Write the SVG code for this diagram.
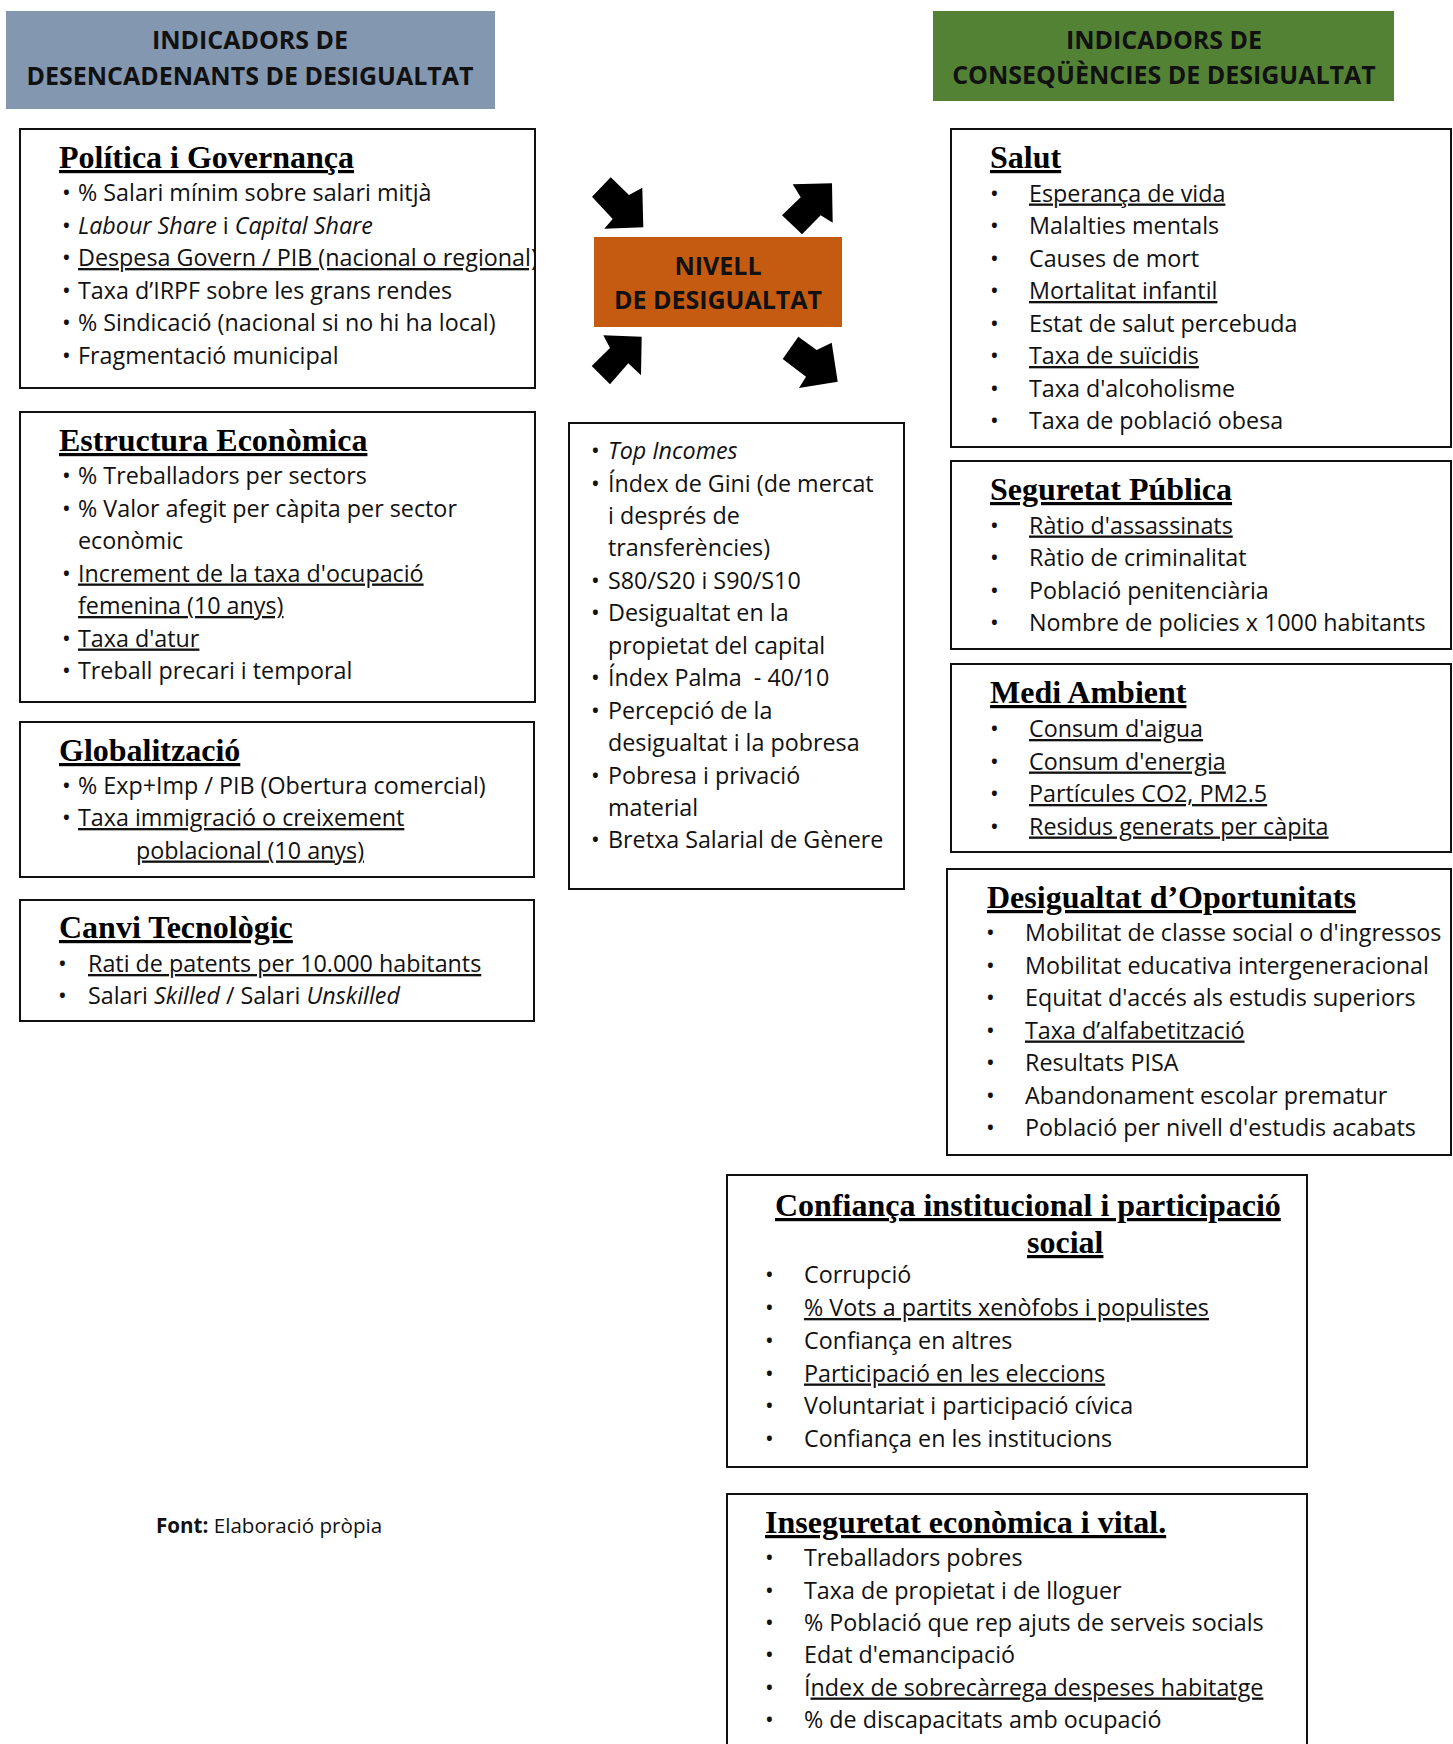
<svg xmlns="http://www.w3.org/2000/svg" width="1453" height="1744" viewBox="0 0 1453 1744">
<style>
.box{fill:#fff;stroke:#111;stroke-width:2}
.ttl{font-family:"Liberation Serif","Times New Roman",serif;font-weight:700;font-size:32px;text-decoration:underline;text-decoration-skip-ink:none;text-decoration-thickness:2.5px;fill:#000}
.tx{font-family:"Open Sans","Liberation Sans",sans-serif;font-size:23.3px;fill:#111}
.u{text-decoration:underline;text-decoration-skip-ink:none}
.i{font-style:italic}
.hd{font-family:"Open Sans","Liberation Sans",sans-serif;font-weight:700;font-size:25px;text-anchor:middle;fill:#111}
.arr{fill:#000}
</style>
<defs>
<clipPath id="clipPol"><rect x="20" y="129" width="515" height="259"/></clipPath>
</defs>
<rect width="1453" height="1744" fill="#fff"/>

<g id="hdr-left">
<rect x="6" y="11" width="489" height="98" fill="#8497B0"/>
<text class="hd" x="250" y="49">INDICADORS DE</text>
<text class="hd" x="250" y="85">DESENCADENANTS DE DESIGUALTAT</text>
</g>

<g id="hdr-right">
<rect x="933" y="11" width="461" height="90" fill="#548235"/>
<text class="hd" x="1164" y="49">INDICADORS DE</text>
<text class="hd" x="1164" y="84">CONSEQÜÈNCIES DE DESIGUALTAT</text>
</g>

<g id="politica">
<rect class="box" x="20" y="129" width="515" height="259"/>
<text class="ttl" x="59" y="168">Política i Governança</text>
<g class="tx">
<text x="62" y="201">•</text><text x="78" y="201">% Salari mínim sobre salari mitjà</text>
<text x="62" y="233.5">•</text><text x="78" y="233.5"><tspan class="i">Labour Share</tspan> i <tspan class="i">Capital Share</tspan></text>
<text x="62" y="266">•</text><text x="78" y="266" class="u" clip-path="url(#clipPol)">Despesa Govern / PIB (nacional o regional)</text>
<text x="62" y="298.5">•</text><text x="78" y="298.5">Taxa d’IRPF sobre les grans rendes</text>
<text x="62" y="331">•</text><text x="78" y="331">% Sindicació (nacional si no hi ha local)</text>
<text x="62" y="363.5">•</text><text x="78" y="363.5">Fragmentació municipal</text>
</g>
</g>

<g id="estructura">
<rect class="box" x="20" y="412" width="515" height="290"/>
<text class="ttl" x="59" y="451">Estructura Econòmica</text>
<g class="tx">
<text x="62" y="484">•</text><text x="78" y="484">% Treballadors per sectors</text>
<text x="62" y="516.5">•</text><text x="78" y="516.5">% Valor afegit per càpita per sector</text>
<text x="78" y="549">econòmic</text>
<text x="62" y="581.5">•</text><text x="78" y="581.5" class="u">Increment de la taxa d'ocupació</text>
<text x="78" y="614" class="u">femenina (10 anys)</text>
<text x="62" y="646.5">•</text><text x="78" y="646.5" class="u">Taxa d'atur</text>
<text x="62" y="679">•</text><text x="78" y="679">Treball precari i temporal</text>
</g>
</g>

<g id="globalitzacio">
<rect class="box" x="20" y="722" width="514" height="155"/>
<text class="ttl" x="59" y="761">Globalització</text>
<g class="tx">
<text x="62" y="793.5">•</text><text x="78" y="793.5">% Exp+Imp / PIB (Obertura comercial)</text>
<text x="62" y="826">•</text><text x="78" y="826" class="u">Taxa immigració o creixement</text>
<text x="136" y="858.5" class="u">poblacional (10 anys)</text>
</g>
</g>

<g id="canvi">
<rect class="box" x="20" y="900" width="514" height="121"/>
<text class="ttl" x="59" y="938">Canvi Tecnològic</text>
<g class="tx">
<text x="58" y="972">•</text><text x="88" y="972" class="u">Rati de patents per 10.000 habitants</text>
<text x="58" y="1004">•</text><text x="88" y="1004">Salari <tspan class="i">Skilled</tspan> / Salari <tspan class="i">Unskilled</tspan></text>
</g>
</g>

<g id="nivell">
<rect x="594" y="237" width="248" height="90" fill="#C55A11"/>
<text class="hd" x="718" y="275">NIVELL</text>
<text class="hd" x="718" y="309">DE DESIGUALTAT</text>
</g>

<g id="connectors">
<polygon class="arr" points="592,196.7 610.7,177.3 629,195 642.3,187.7 643.3,227.3 604.3,228.7 612.7,219"/>
<polygon class="arr" points="782,215.3 800.7,197.3 792.7,184.3 832,183.3 832.7,222.7 820.7,215.3 802,234.3"/>
<polygon class="arr" points="591.7,366 610,348 603.3,335.3 641.7,336.7 641,375.3 628.3,363.3 610,384.3"/>
<polygon class="arr" points="798.3,336.7 816.7,350 831.7,342.7 837.7,381.7 799,388 806,376.7 782.7,359"/>
</g>

<g id="mesures">
<rect class="box" x="569" y="423" width="335" height="466"/>
<g class="tx">
<text x="591" y="459">•</text><text x="608" y="459" class="i">Top Incomes</text>
<text x="591" y="491.5">•</text><text x="608" y="491.5">Índex de Gini (de mercat</text>
<text x="608" y="524">i després de</text>
<text x="608" y="556.3">transferències)</text>
<text x="591" y="588.8">•</text><text x="608" y="588.8">S80/S20 i S90/S10</text>
<text x="591" y="621.2">•</text><text x="608" y="621.2">Desigualtat en la</text>
<text x="608" y="653.7">propietat del capital</text>
<text x="591" y="686.1">•</text><text x="608" y="686.1" style="white-space:pre">Índex Palma  - 40/10</text>
<text x="591" y="718.6">•</text><text x="608" y="718.6">Percepció de la</text>
<text x="608" y="751">desigualtat i la pobresa</text>
<text x="591" y="783.5">•</text><text x="608" y="783.5">Pobresa i privació</text>
<text x="608" y="816">material</text>
<text x="591" y="848.4">•</text><text x="608" y="848.4">Bretxa Salarial de Gènere</text>
</g>
</g>

<g id="salut">
<rect class="box" x="951" y="129" width="500" height="318"/>
<text class="ttl" x="990" y="168">Salut</text>
<g class="tx">
<text x="990" y="201.5">•</text><text x="1029" y="201.5" class="u">Esperança de vida</text>
<text x="990" y="234">•</text><text x="1029" y="234">Malalties mentals</text>
<text x="990" y="266.5">•</text><text x="1029" y="266.5">Causes de mort</text>
<text x="990" y="299">•</text><text x="1029" y="299" class="u">Mortalitat infantil</text>
<text x="990" y="331.5">•</text><text x="1029" y="331.5">Estat de salut percebuda</text>
<text x="990" y="364">•</text><text x="1029" y="364" class="u">Taxa de suïcidis</text>
<text x="990" y="396.5">•</text><text x="1029" y="396.5">Taxa d'alcoholisme</text>
<text x="990" y="429">•</text><text x="1029" y="429">Taxa de població obesa</text>
</g>
</g>

<g id="seguretat">
<rect class="box" x="951" y="461" width="500" height="188"/>
<text class="ttl" x="990" y="500">Seguretat Pública</text>
<g class="tx">
<text x="990" y="533.5">•</text><text x="1029" y="533.5" class="u">Ràtio d'assassinats</text>
<text x="990" y="566">•</text><text x="1029" y="566">Ràtio de criminalitat</text>
<text x="990" y="598.5">•</text><text x="1029" y="598.5">Població penitenciària</text>
<text x="990" y="631">•</text><text x="1029" y="631">Nombre de policies x 1000 habitants</text>
</g>
</g>

<g id="medi">
<rect class="box" x="951" y="664" width="500" height="188"/>
<text class="ttl" x="990" y="703">Medi Ambient</text>
<g class="tx">
<text x="990" y="737">•</text><text x="1029" y="737" class="u">Consum d'aigua</text>
<text x="990" y="769.5">•</text><text x="1029" y="769.5" class="u">Consum d'energia</text>
<text x="990" y="802">•</text><text x="1029" y="802" class="u">Partícules CO2, PM2.5</text>
<text x="990" y="834.5">•</text><text x="1029" y="834.5" class="u">Residus generats per càpita</text>
</g>
</g>

<g id="oportunitats">
<rect class="box" x="947" y="869" width="504" height="286"/>
<text class="ttl" x="987" y="908">Desigualtat d’Oportunitats</text>
<g class="tx">
<text x="986" y="941">•</text><text x="1025" y="941">Mobilitat de classe social o d'ingressos</text>
<text x="986" y="973.5">•</text><text x="1025" y="973.5">Mobilitat educativa intergeneracional</text>
<text x="986" y="1006">•</text><text x="1025" y="1006">Equitat d'accés als estudis superiors</text>
<text x="986" y="1038.5">•</text><text x="1025" y="1038.5" class="u">Taxa d’alfabetització</text>
<text x="986" y="1071">•</text><text x="1025" y="1071">Resultats PISA</text>
<text x="986" y="1103.5">•</text><text x="1025" y="1103.5">Abandonament escolar prematur</text>
<text x="986" y="1136">•</text><text x="1025" y="1136">Població per nivell d'estudis acabats</text>
</g>
</g>

<g id="confianca">
<rect class="box" x="727" y="1175" width="580" height="292"/>
<text class="ttl" x="775" y="1216">Confiança institucional i participació</text>
<text class="ttl" x="1027" y="1253">social</text>
<g class="tx">
<text x="765" y="1283">•</text><text x="804" y="1283">Corrupció</text>
<text x="765" y="1316">•</text><text x="804" y="1316" class="u">% Vots a partits xenòfobs i populistes</text>
<text x="765" y="1349">•</text><text x="804" y="1349">Confiança en altres</text>
<text x="765" y="1381.5">•</text><text x="804" y="1381.5" class="u">Participació en les eleccions</text>
<text x="765" y="1414">•</text><text x="804" y="1414">Voluntariat i participació cívica</text>
<text x="765" y="1447">•</text><text x="804" y="1447">Confiança en les institucions</text>
</g>
</g>

<g id="inseguretat">
<path class="box" d="M727,1745 V1494 H1307 V1745"/>
<text class="ttl" x="765" y="1533">Inseguretat econòmica i vital.</text>
<g class="tx">
<text x="765" y="1566">•</text><text x="804" y="1566">Treballadors pobres</text>
<text x="765" y="1598.5">•</text><text x="804" y="1598.5">Taxa de propietat i de lloguer</text>
<text x="765" y="1631">•</text><text x="804" y="1631">% Població que rep ajuts de serveis socials</text>
<text x="765" y="1663">•</text><text x="804" y="1663">Edat d'emancipació</text>
<text x="765" y="1695.5">•</text><text x="804" y="1695.5">Í<tspan class="u">ndex de sobrecàrrega despeses habitatge</tspan></text>
<text x="765" y="1728">•</text><text x="804" y="1728">% de discapacitats amb ocupació</text>
</g>
</g>

<g id="font">
<text x="156" y="1533" style="font-family:'Open Sans','Liberation Sans',sans-serif;font-size:20.6px;fill:#111"><tspan font-weight="700">Font:</tspan> Elaboració pròpia</text>
</g>
</svg>
